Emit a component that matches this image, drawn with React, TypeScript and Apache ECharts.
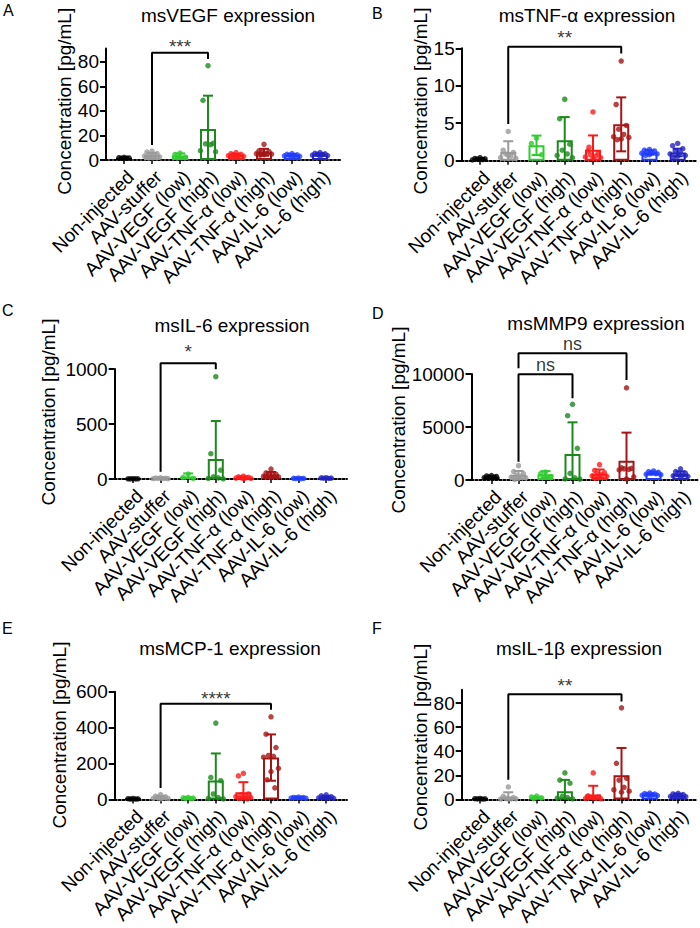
import React, { useEffect, useRef } from 'react';
import * as echarts from 'echarts';

const CATEGORIES = [
  'Non-injected',
  'AAV-stuffer',
  'AAV-VEGF (low)',
  'AAV-VEGF (high)',
  'AAV-TNF-α (low)',
  'AAV-TNF-α (high)',
  'AAV-IL-6 (low)',
  'AAV-IL-6 (high)',
];

const GROUP_COLORS = ['#000000', '#9a9a9a', '#2ecc2e', '#1a8a1a', '#ff1a1a', '#a51515', '#1f3cff', '#2323c0'];

// ---- Panel A: msVEGF ----
const A_TITLE = 'msVEGF expression';
const A_MAX = 91;
const A_TICKS = [0, 20, 40, 60, 80];
const A_MEANS = [1.8, 4.1, 3.6, 25.3, 4.0, 6.3, 3.9, 4.5];
const A_SD = [0.5, 1.6, 1.8, 27.2, 1.1, 2.8, 0.8, 0.9];
const A_POINTS = [
  [2.2, 1.9, 1.7, 1.5, 1.6],
  [7.3, 6.5, 5.2, 4.5, 3.8, 3.2, 2.6, 2.0, 1.9],
  [5.6, 4.5, 2.5, 2.0],
  [77, 48.7, 13.6, 13.2, 12.5, 7.6, 6.8],
  [6.0, 5.1, 4.6, 4.2, 3.8, 3.5, 3.0, 2.5, 3.3],
  [12.8, 7.5, 6.8, 6.0, 5.5, 5.2, 4.8, 4.4, 4.0],
  [5.2, 4.6, 4.2, 3.9, 3.7, 3.4, 3.0, 3.3],
  [6.0, 5.4, 5.0, 4.6, 4.3, 4.0, 3.6, 3.3],
];
// [from, to, left leg end, right leg end, top, label y]
const A_BRACKETS = [[1, 3, 12.2, 82.4, 87.6, 96.6]];
const A_BRACKET_TEXT = ['***'];

// ---- Panel B: msTNF-α ----
const B_TITLE = 'msTNF-α expression';
const B_MAX = 15;
const B_TICKS = [0, 5, 10, 15];
const B_MEANS = [0.25, 1.17, 2.05, 2.72, 1.47, 4.85, 1.1, 1.1];
const B_SD = [0.1, 1.43, 1.3, 3.1, 1.9, 3.6, 0.3, 0.5];
const B_POINTS = [
  [0.4, 0.3, 0.25, 0.2, 0.15, 0.1],
  [3.9, 1.4, 1.1, 0.9, 0.6, 0.4, 0.3, 0.7],
  [3.0, 2.3, 0.8],
  [8.2, 5.6, 2.2, 1.4, 0.9, 0.7, 0.4],
  [6.5, 1.3, 1.0, 0.8, 0.6, 0.5, 0.4, 0.3, 1.8],
  [13.3, 7.5, 4.7, 4.2, 3.5, 3.2, 3.1, 2.9, 2.8],
  [1.5, 1.4, 1.3, 1.2, 1.1, 1.0, 0.9, 0.8, 0.7],
  [2.3, 2.0, 1.6, 1.3, 1.1, 0.9, 0.7, 0.6, 0.5],
];
const B_BRACKETS = [[1, 5, 4.9, 14.3, 15.2, 17.1]];
const B_BRACKET_TEXT = ['**'];

// ---- Panel C: msIL-6 ----
const C_TITLE = 'msIL-6 expression';
const C_MAX = 1000;
const C_TICKS = [0, 500, 1000];
const C_MEANS = [2, 6, 22, 182, 12, 38, 5, 8];
const C_SD = [1, 3, 29, 345, 8, 26, 2, 3];
const C_POINTS = [
  [3, 2, 2, 1, 1],
  [10, 8, 6, 5, 4, 3, 3],
  [45, 15, 5],
  [930, 230, 80, 20, 10, 5, 2],
  [25, 20, 15, 12, 10, 8, 6, 4],
  [90, 55, 45, 38, 30, 25, 20, 15, 22],
  [8, 6, 5, 4, 3],
  [12, 10, 8, 7, 5],
];
const C_BRACKETS = [[1, 3, 66, 997, 1052, 1209]];
const C_BRACKET_TEXT = ['*'];

// ---- Panel D: msMMP9 ----
const D_TITLE = 'msMMP9 expression';
const D_MAX = 10000;
const D_TICKS = [0, 5000, 10000];
const D_MEANS = [314, 470, 550, 2450, 589, 1820, 650, 590];
const D_SD = [70, 380, 285, 2990, 400, 2650, 130, 230];
const D_POINTS = [
  [420, 380, 330, 280, 250, 220],
  [1350, 800, 600, 450, 350, 280, 200, 150, 50],
  [750, 600, 300],
  [7140, 6070, 2990, 630, 200, 100, 80],
  [1450, 900, 700, 600, 500, 400, 350, 250, 150],
  [8700, 1150, 1100, 1050, 1000, 950, 300, 100],
  [850, 780, 720, 650, 600, 550, 500],
  [1050, 800, 650, 550, 480, 400, 350, 300],
];
const D_BRACKETS = [
  [1, 3, 1730, 7710, 9970, 10850],
  [1, 5, 10540, 9430, 11950, 12830],
];
const D_BRACKET_TEXT = ['ns', 'ns'];

// ---- Panel E: msMCP-1 ----
const E_TITLE = 'msMCP-1 expression';
const E_MAX = 600;
const E_TICKS = [0, 200, 400, 600];
const E_MEANS = [3, 11, 7, 105, 40, 233, 9, 12];
const E_SD = [1.5, 7, 3, 151, 56, 129, 3, 6];
const E_POINTS = [
  [5, 4, 3, 2, 2],
  [27, 18, 14, 10, 8, 6, 5, 4],
  [11, 9, 7, 5, 4],
  [425, 122, 104, 30, 10, 5, 3],
  [145, 131, 30, 25, 20, 15, 10, 8, 5, 3],
  [460, 363, 289, 245, 240, 235, 173, 155, 109, 64],
  [13, 11, 10, 9, 8, 7, 6],
  [25, 20, 15, 12, 10, 8, 6, 5],
];
const E_BRACKETS = [[1, 5, 64, 500, 533, 588]];
const E_BRACKET_TEXT = ['****'];

// ---- Panel F: msIL-1β ----
const F_TITLE = 'msIL-1β expression';
const F_MAX = 91;
const F_TICKS = [0, 20, 40, 60, 80];
const F_MEANS = [0.5, 1.9, 1.5, 6.8, 4.0, 20, 4.0, 3.5];
const F_SD = [0.3, 4.0, 0.8, 9.4, 7.3, 22.7, 0.8, 1.2];
const F_POINTS = [
  [0.8, 0.6, 0.5, 0.4, 0.3],
  [10.3, 2.5, 1.5, 1.0, 0.5, 0.3, 0.5, 0.2],
  [2.8, 2.0, 1.2, 0.8],
  [22, 16, 13.5, 2.5, 1.5, 1.0, 0.5],
  [22, 3, 2, 1.5, 1, 0.8, 0.5, 1.2],
  [76, 30, 17.5, 16, 10, 8, 6.8, 6],
  [5.2, 4.8, 4.4, 4.0, 3.8, 3.5, 3.2, 3.0],
  [5, 4.5, 4, 3.5, 3, 2.5, 2.2],
];
const F_BRACKETS = [[1, 5, 16.3, 81.3, 87.3, 99]];
const F_BRACKET_TEXT = ['**'];

const Y_NAME = 'Concentration [pg/mL]';
const FONT = "'Liberation Sans', Arial, Helvetica, sans-serif";

const PANEL_DATA = [
  { letter: 'A', title: A_TITLE, max: A_MAX, ticks: A_TICKS, means: A_MEANS, sd: A_SD, points: A_POINTS, brackets: A_BRACKETS, btext: A_BRACKET_TEXT },
  { letter: 'B', title: B_TITLE, max: B_MAX, ticks: B_TICKS, means: B_MEANS, sd: B_SD, points: B_POINTS, brackets: B_BRACKETS, btext: B_BRACKET_TEXT },
  { letter: 'C', title: C_TITLE, max: C_MAX, ticks: C_TICKS, means: C_MEANS, sd: C_SD, points: C_POINTS, brackets: C_BRACKETS, btext: C_BRACKET_TEXT },
  { letter: 'D', title: D_TITLE, max: D_MAX, ticks: D_TICKS, means: D_MEANS, sd: D_SD, points: D_POINTS, brackets: D_BRACKETS, btext: D_BRACKET_TEXT },
  { letter: 'E', title: E_TITLE, max: E_MAX, ticks: E_TICKS, means: E_MEANS, sd: E_SD, points: E_POINTS, brackets: E_BRACKETS, btext: E_BRACKET_TEXT },
  { letter: 'F', title: F_TITLE, max: F_MAX, ticks: F_TICKS, means: F_MEANS, sd: F_SD, points: F_POINTS, brackets: F_BRACKETS, btext: F_BRACKET_TEXT },
];

// layout (pixels) for each panel
const LAYOUT = [
  { left: 106, top: 48.5, width: 234, height: 111.5, xMin: -0.643, xMax: 7.714, titleX: 228, titleY: 15, letterX: 3, letterY: 2, nameGap: 32, nameShift: 6, labelFont: 19 },
  { left: 461.7, top: 48.3, width: 235.3, height: 112.4, xMin: -0.648, xMax: 7.683, titleX: 587, titleY: 15, letterX: 372, letterY: 5, nameGap: 32, nameShift: 7, labelFont: 19 },
  { left: 114.7, top: 369, width: 232.3, height: 110, xMin: -0.663, xMax: 7.754, titleX: 232, titleY: 325, letterX: 2, letterY: 302, nameGap: 57, nameShift: 24, labelFont: 19 },
  { left: 471.5, top: 374, width: 227.5, height: 106, xMin: -0.741, xMax: 7.685, titleX: 596, titleY: 323, letterX: 372, letterY: 305, nameGap: 60, nameShift: 14, labelFont: 18 },
  { left: 114.7, top: 691.7, width: 232.3, height: 110, xMin: -0.663, xMax: 7.754, titleX: 230, titleY: 648, letterX: 2, letterY: 620, nameGap: 46, nameShift: 21, labelFont: 19 },
  { left: 461.7, top: 689.8, width: 235, height: 111.9, xMin: -0.647, xMax: 7.657, titleX: 579, titleY: 648, letterX: 372, letterY: 620, nameGap: 31, nameShift: 15, labelFont: 19 },
];

const JITTER = [0, -0.18, 0.18, -0.09, 0.09, -0.27, 0.27, 0.0, -0.14, 0.14];
const CAT_VALUES = CATEGORIES.map((_, i) => i);

function buildOption() {
  const grid: any[] = [];
  const xAxis: any[] = [];
  const yAxis: any[] = [];
  const series: any[] = [];
  const graphic: any[] = [];

  PANEL_DATA.forEach((p, i) => {
    const L = LAYOUT[i];
    grid.push({ left: L.left, top: L.top, width: L.width, height: L.height, containLabel: false });
    xAxis.push({
      type: 'value',
      gridIndex: i,
      min: L.xMin,
      max: L.xMax,
      splitLine: { show: false },
      axisLine: { show: true, onZero: false, lineStyle: { color: '#000', width: 2, type: 'dotted' } },
      axisTick: { show: true, customValues: CAT_VALUES, length: 4, lineStyle: { color: '#000', width: 1.5 } },
      axisLabel: {
        show: true,
        customValues: CAT_VALUES,
        rotate: 45,
        margin: 7,
        align: 'right',
        verticalAlign: 'top',
        fontSize: 19,
        color: '#000',
        fontFamily: FONT,
        formatter: (v: number) => CATEGORIES[Math.round(v)] ?? '',
      },
    });
    yAxis.push({
      type: 'value',
      gridIndex: i,
      min: 0,
      max: p.max,
      splitLine: { show: false },
      axisLine: { show: true, onZero: false, lineStyle: { color: '#000', width: 2 } },
      axisTick: { show: true, customValues: p.ticks, length: 6, lineStyle: { color: '#000', width: 2 } },
      axisLabel: {
        show: true,
        customValues: p.ticks,
        margin: 7,
        fontSize: 19,
        color: '#000',
        fontFamily: FONT,
        formatter: (v: number) => String(v),
      },
      name: Y_NAME,
      nameLocation: 'middle',
      nameGap: L.nameGap,
      nameTextStyle: { fontSize: 19, color: '#000', fontFamily: FONT, padding: [0, 0, 0, L.nameShift] },
    });

    // bars
    series.push({
      type: 'bar',
      xAxisIndex: i,
      yAxisIndex: i,
      barWidth: 16,
      z: 2,
      data: p.means.map((m, j) => ({
        value: [j, m],
        itemStyle: { color: '#ffffff', borderColor: GROUP_COLORS[j], borderWidth: 2 },
      })),
    });

    // error bars (mean ± SD)
    series.push({
      type: 'custom',
      xAxisIndex: i,
      yAxisIndex: i,
      z: 3,
      clip: false,
      encode: { x: 0, y: 1 },
      data: p.means.map((m, j) => [j, m, p.sd[j]]),
      renderItem: (params: any, api: any) => {
        const x = api.value(0);
        const m = api.value(1);
        const s = api.value(2);
        const color = GROUP_COLORS[params.dataIndex];
        const hi = api.coord([x, m + s]);
        const lowV = m - s;
        const lo = api.coord([x, Math.max(0, lowV)]);
        const cw = 5;
        const st = { stroke: color, lineWidth: 2 };
        const children: any[] = [
          { type: 'line', shape: { x1: hi[0], y1: hi[1], x2: lo[0], y2: lo[1] }, style: st },
          { type: 'line', shape: { x1: hi[0] - cw, y1: hi[1], x2: hi[0] + cw, y2: hi[1] }, style: st },
        ];
        if (lowV > 0) {
          children.push({ type: 'line', shape: { x1: lo[0] - cw, y1: lo[1], x2: lo[0] + cw, y2: lo[1] }, style: st });
        }
        return { type: 'group', children };
      },
    });

    // individual points
    const pts: any[] = [];
    p.points.forEach((arr, j) => {
      arr.forEach((v, k) => {
        pts.push({ value: [j + JITTER[k % JITTER.length], v], itemStyle: { color: GROUP_COLORS[j] } });
      });
    });
    series.push({
      type: 'scatter',
      xAxisIndex: i,
      yAxisIndex: i,
      symbolSize: 5.5,
      z: 4,
      clip: false,
      data: pts,
    });

    // significance brackets
    p.brackets.forEach((b, k) => {
      const [from, to, leftEnd, rightEnd, top, labelY] = b;
      series.push({
        type: 'line',
        xAxisIndex: i,
        yAxisIndex: i,
        symbol: 'none',
        clip: false,
        silent: true,
        z: 5,
        lineStyle: { color: '#000', width: 2 },
        data: [
          [from, leftEnd],
          [from, top],
          [to, top],
          [to, rightEnd],
        ],
      });
      const txt = p.btext[k];
      const isStar = txt.indexOf('*') >= 0;
      series.push({
        type: 'scatter',
        xAxisIndex: i,
        yAxisIndex: i,
        symbolSize: 1,
        clip: false,
        silent: true,
        z: 5,
        itemStyle: { color: 'rgba(0,0,0,0)' },
        label: {
          show: true,
          position: 'inside',
          formatter: txt,
          fontSize: L.labelFont,
          lineHeight: isStar ? 12 : 14,
          color: '#000',
          fontFamily: FONT,
          offset: [0, isStar ? 5 : 0],
        },
        data: [[(from + to) / 2, labelY]],
      });
    });

    graphic.push({
      type: 'text',
      x: L.titleX,
      y: L.titleY,
      style: {
        text: p.title,
        fill: '#000',
        fontSize: 19,
        lineHeight: 20,
        fontFamily: FONT,
        align: 'center',
        verticalAlign: 'middle',
        textAlign: 'center',
        textVerticalAlign: 'middle',
      },
    });
    graphic.push({
      type: 'text',
      x: L.letterX,
      y: L.letterY,
      style: {
        text: p.letter,
        fill: '#000',
        fontSize: 16,
        fontFamily: FONT,
        align: 'left',
        verticalAlign: 'top',
        textAlign: 'left',
        textVerticalAlign: 'top',
      },
    });
  });

  return {
    animation: false,
    backgroundColor: '#ffffff',
    textStyle: { fontFamily: FONT },
    grid,
    xAxis,
    yAxis,
    series,
    graphic,
  };
}

export default function App() {
  const ref = useRef<HTMLDivElement>(null);
  useEffect(() => {
    if (!ref.current) return;
    const chart = echarts.init(ref.current, undefined, { renderer: 'svg' });
    chart.setOption(buildOption() as any);
    return () => {
      chart.dispose();
    };
  }, []);
  return (
    <div
      ref={ref}
      style={{ position: 'absolute', left: 0, top: 0, width: 700, height: 928, background: '#fff' }}
    />
  );
}
